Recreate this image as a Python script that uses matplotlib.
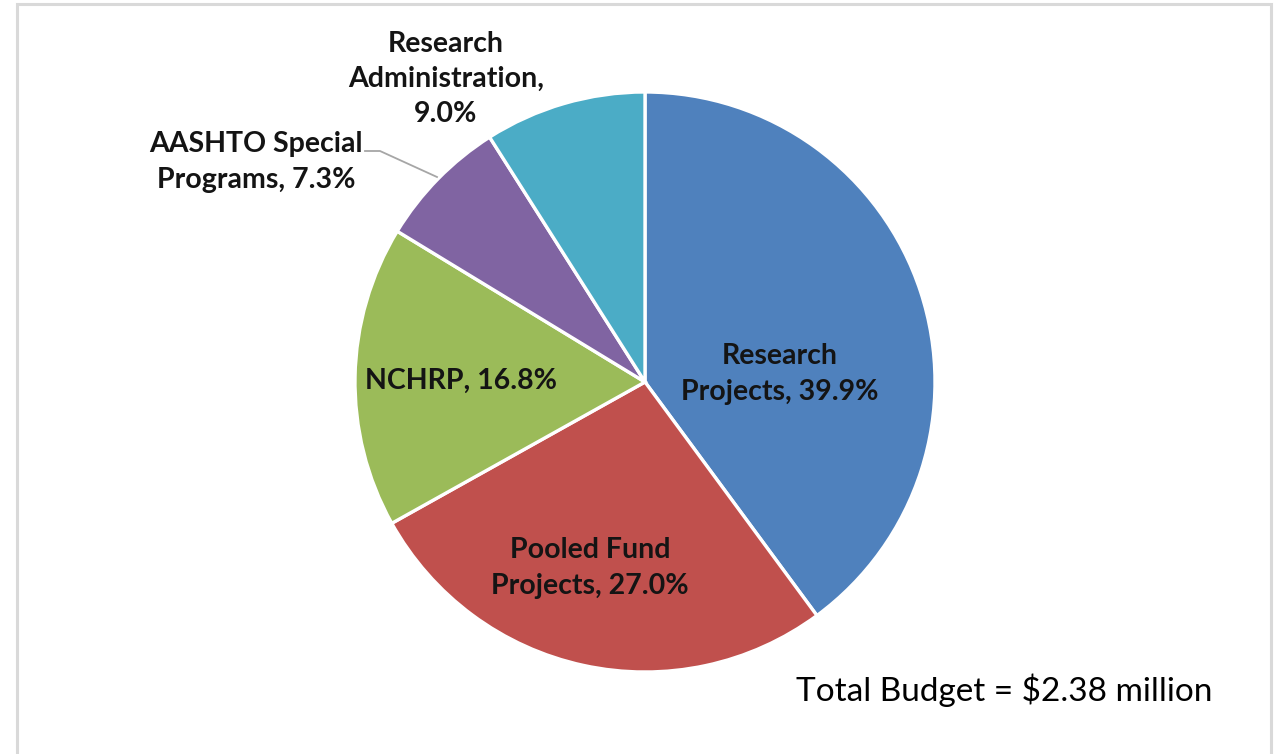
import matplotlib.pyplot as plt
from matplotlib.patches import Rectangle

plt.rcParams['font.family'] = ['Lato', 'DejaVu Sans']

categories = ['Research Projects', 'Pooled Fund Projects', 'NCHRP',
              'AASHTO Special Programs', 'Research Administration']
shares = [39.9, 27.0, 16.8, 7.3, 9.0]
colors = ['#4F81BD', '#C0504D', '#9BBB59', '#8064A2', '#4BACC6']
label_texts = ['Research\nProjects, {:.1f}%',
               'Pooled Fund\nProjects, {:.1f}%',
               'NCHRP, {:.1f}%',
               'AASHTO Special\nPrograms, {:.1f}%',
               'Research\nAdministration,\n{:.1f}%']
total_text = 'Total Budget = $2.38 million'

W, H = 1278, 754
fig = plt.figure(figsize=(W / 100, H / 100), dpi=100)
ax = fig.add_axes([0, 0, 1, 1])

def Y(y):
    # pixel rows from the top -> data y
    return H - y

ax.pie(shares, colors=colors, startangle=90, counterclock=False,
       center=(645, Y(382)), radius=290,
       wedgeprops=dict(edgecolor='white', linewidth=2.4))

# label positions (pixel coords, centre of text block)
label_pos = [(780, 374), (590, 568), (461, 381), (256, 162), (446, 79)]
for txt, v, (x, y) in zip(label_texts, shares, label_pos):
    ax.text(x, Y(y), txt.format(v), ha='center', va='center',
            fontsize=20.5, fontweight='bold', color='#141414',
            linespacing=1.45)

# leader line for the small slice
ax.plot([365, 380, 437], [Y(151), Y(151), Y(177)], color='#A6A6A6', lw=1.3)

ax.text(1004, Y(690), total_text, ha='center', va='center',
        fontsize=24, color='black')

# outer frame
ax.add_patch(Rectangle((17, -10), 1254, H - 4 + 10, fill=False,
                       edgecolor='#D9D9D9', lw=2.2))

ax.set_xlim(0, W)
ax.set_ylim(0, H)
ax.set_aspect('equal')
ax.axis('off')

fig.savefig('out.png', dpi=100, facecolor='white')
